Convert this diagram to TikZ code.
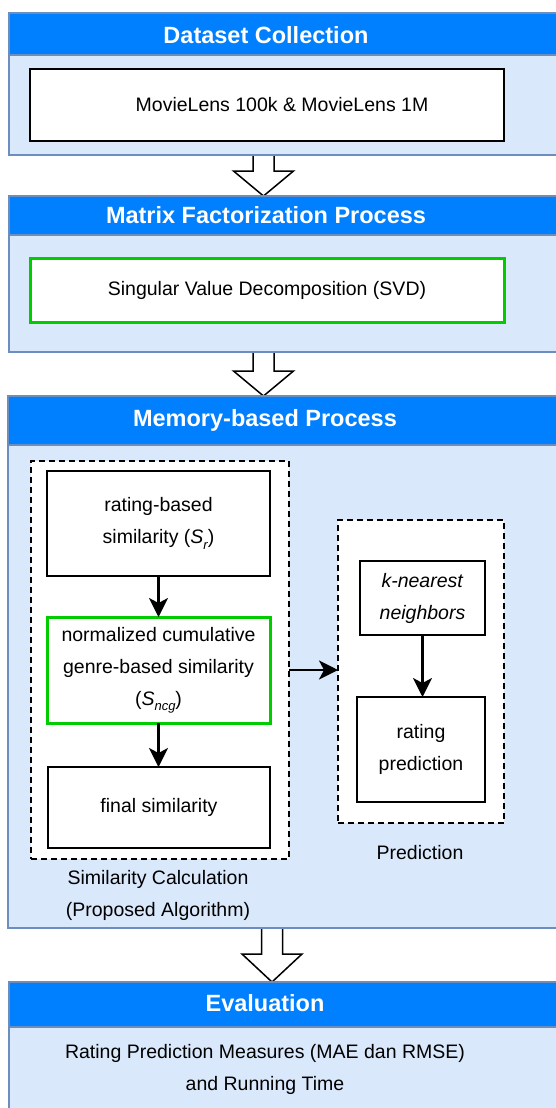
\documentclass[tikz,border=0pt]{standalone}
\usepackage{fontspec}
\setmainfont{Liberation Sans}
\usetikzlibrary{arrows.meta,backgrounds,calc}
\definecolor{headblue}{HTML}{007FFF}
\definecolor{bodyblue}{HTML}{DAE8FC}
\definecolor{frameblue}{HTML}{6C8EBF}
\definecolor{boxgreen}{HTML}{00CC00}

% lowered italic index after a symbol
\newcommand\lowsub[1]{\raisebox{-0.5ex}{\fontsize{13}{13}\selectfont\itshape #1}}

% hollow block arrow between two stages
\newcommand\stagearrow[3]{%
  \draw[bigarrow] let \p1=(#1), \p2=(#2) in
    (\x1-10.5pt,\y1) -- (\x1-10.5pt,\y2+#3) -- (\x1-30pt,\y2+#3) -- (\x2,\y2)
    -- (\x1+30pt,\y2+#3) -- (\x1+10.5pt,\y2+#3) -- (\x1+10.5pt,\y1) -- cycle;}

\tikzset{
  stage/.style={draw=frameblue, line width=2.5pt, fill=bodyblue, anchor=north west, inner sep=0pt, outer sep=0pt},
  stagehead/.style={draw=frameblue, line width=2.5pt, fill=headblue, anchor=north west, inner sep=0pt, outer sep=0pt},
  stagetitle/.style={text=white, font=\fontsize{23.5}{27}\selectfont\bfseries},
  body/.style={font=\fontsize{19.5}{32}\selectfont, align=center},
  plainbox/.style={body, draw=black, line width=2pt, fill=white, inner sep=0pt, outer sep=0pt},
  greenbox/.style={plainbox, draw=boxgreen, line width=3pt},
  groupbox/.style={draw=black, line width=2pt, dash pattern=on 6pt off 4pt, fill=white, anchor=north west, inner sep=0pt, outer sep=0pt},
  flow/.style={draw=black, line width=2.2pt, -{Stealth[length=19pt,width=19pt,inset=5pt]}},
  bigarrow/.style={draw=black, line width=1.5pt, fill=white, line join=miter},
}

\begin{document}
\begin{tikzpicture}[x=1pt, y=-1pt]
\useasboundingbox (0,0) rectangle (555,1108);

% ---- Stage 1: dataset
\node[stage, minimum width=560pt, minimum height=142pt] (s1) at (9,13) {};
\node[stagehead, minimum width=560pt, minimum height=42pt] (h1) at (9,13) {};
\node[stagetitle] (t1) at (266,35) {Dataset Collection};
\node[plainbox, minimum width=474pt, minimum height=72pt] (ml) at (267,105)
  {\hspace*{30pt}MovieLens 100k \& MovieLens 1M};

% ---- Stage 2: matrix factorization
\node[stage, minimum width=560pt, minimum height=156pt] (s2) at (9,196) {};
\node[stagehead, minimum width=560pt, minimum height=39pt] (h2) at (9,196) {};
\node[stagetitle] (t2) at (266,215) {Matrix Factorization Process};
\node[greenbox, minimum width=474pt, minimum height=64pt] (svd) at (267,290)
  {Singular Value Decomposition (SVD)};

% ---- Stage 3: memory-based process
\node[stage, minimum width=560pt, minimum height=532pt] (s3) at (8,396) {};
\node[stagehead, minimum width=560pt, minimum height=49pt] (h3) at (8,396) {};
\node[stagetitle] (t3) at (265,420) {Memory-based Process};

\node[groupbox, minimum width=258pt, minimum height=398pt] (simgrp) at (31,461) {};
\node[groupbox, minimum width=166pt, minimum height=303pt] (predgrp) at (338,520) {};

\node[plainbox, minimum width=223pt, minimum height=105pt] (rs) at (158.5,523.5)
  {rating-based\\similarity (\textit{S}\lowsub{r})};
\node[greenbox, minimum width=223pt, minimum height=106pt] (ncg) at (158.5,670)
  {normalized cumulative\\genre-based similarity\\(\textit{S}\lowsub{ncg})};
\node[plainbox, minimum width=222pt, minimum height=81pt] (fin) at (159,807.5)
  {final similarity};

\node[plainbox, minimum width=125pt, minimum height=74pt] (knn) at (422.5,598)
  {\textit{k-nearest}\\\textit{neighbors}};
\node[plainbox, minimum width=128pt, minimum height=105pt] (rp) at (421,749.5)
  {rating\\prediction};

\node[body] (simlbl) at (158,895) {Similarity Calculation\\(Proposed Algorithm)};
\node[body] (predlbl) at (420,853) {Prediction};

\draw[flow] (rs.south) -- (rs.south |- ncg.north);
\draw[flow] (ncg.south) -- (ncg.south |- fin.north);
\draw[flow] (knn.south) -- (knn.south |- rp.north);
\draw[flow] (simgrp.east |- ncg) -- (predgrp.west |- ncg);

% ---- Stage 4: evaluation
\node[stage, minimum width=560pt, minimum height=140pt] (s4) at (9,982) {};
\node[stagehead, minimum width=560pt, minimum height=45pt] (h4) at (9,982) {};
\node[stagetitle] (t4) at (265,1003) {Evaluation};
\node[body] (evaltxt) at (265,1069)
  {Rating Prediction Measures (MAE dan RMSE)\\and Running Time};

% ---- hollow arrows between the stages
\coordinate (ax1) at (263.5,0);
\coordinate (ax3) at (272,0);
\begin{scope}[on background layer]
  \stagearrow{s1.south -| ax1}{s2.north -| ax1}{25pt}
  \stagearrow{s2.south -| ax1}{s3.north -| ax1}{25pt}
  \stagearrow{s3.south -| ax3}{s4.north -| ax3}{28pt}
\end{scope}
\end{tikzpicture}
\end{document}
